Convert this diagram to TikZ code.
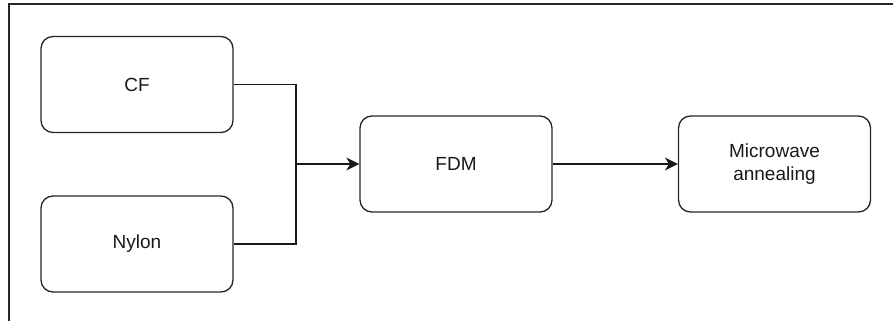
\documentclass[tikz,border=0pt]{standalone}
\usepackage{fontspec}
\setmainfont{Liberation Sans}
\usetikzlibrary{arrows.meta}
\begin{document}
\begin{tikzpicture}[x=1pt,y=-1pt,
  stepbox/.style={draw=black!85, line width=1.3pt, rounded corners=12pt,
    minimum width=192pt, minimum height=96pt, inner sep=0pt,
    align=center, font=\fontsize{19}{23}\selectfont, text=black!90},
  link/.style={draw=black!90, line width=1.3pt},
  tip/.style={-{Stealth[length=13pt,width=13pt,inset=4pt]}}]
  \useasboundingbox (0,0) rectangle (893,321);
  % frame: top and left edges only
  \draw[line width=1.3pt, draw=black!85] (9,321) -- (9,4) -- (893,4);
  % process steps
  \node[stepbox] (cf)    at (137,84.5) {CF};
  \node[stepbox] (nylon) at (137,244)  {Nylon};
  \node[stepbox] (fdm)   at (456,164)  {FDM};
  \node[stepbox] (mw)    at (774.5,164) {Microwave\\annealing};
  % merge the two feedstocks into the printer
  \coordinate (join) at (296,164);
  \draw[link] (cf.east) -| (join) |- (nylon.east);
  \draw[link,tip] (join) -- (fdm.west);
  \draw[link,tip] (fdm.east) -- (mw.west);
\end{tikzpicture}
\end{document}
